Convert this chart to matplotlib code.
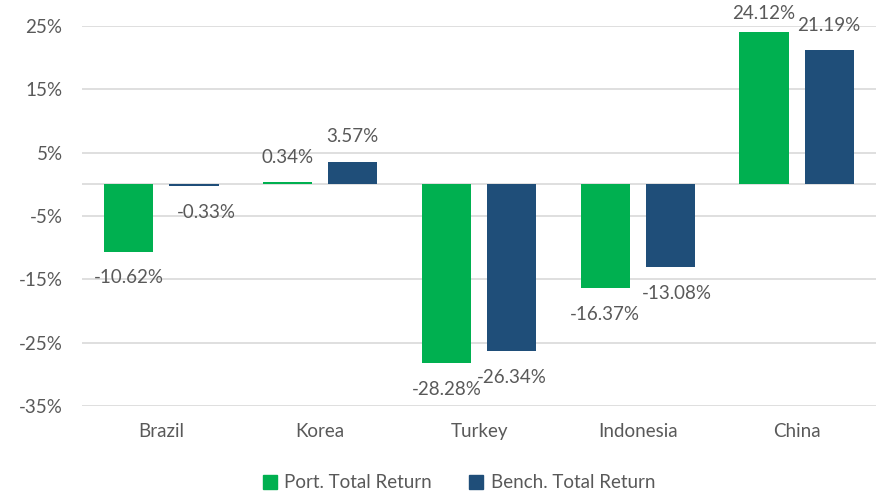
import matplotlib
matplotlib.use("Agg")
import matplotlib.pyplot as plt
import numpy as np
from matplotlib.patches import Patch

categories = ["Brazil", "Korea", "Turkey", "Indonesia", "China"]
port_values = [-10.62, 0.34, -28.28, -16.37, 24.12]
bench_values = [-0.33, 3.57, -26.34, -13.08, 21.19]
series_names = ["Port. Total Return", "Bench. Total Return"]
yticks = [25, 15, 5, -5, -15, -25, -35]

green = "#00B050"
blue = "#1F4E79"
text_c = "#595959"
grid_c = "#D9D9D9"

plt.rcParams['font.family'] = ['Lato', 'DejaVu Sans']
FS = 13.5

fig = plt.figure(figsize=(8.81, 4.96), dpi=100)
W, H = 881, 496
ax = fig.add_axes([82 / W, 1 - 406 / H, (876 - 82) / W, (406 - 26) / H])

x = np.arange(len(categories))
bw = 0.31
off = 0.205
ax.bar(x - off, port_values, bw, color=green, zorder=3)
ax.bar(x + off, bench_values, bw, color=blue, zorder=3)

ax.set_xlim(-0.5, len(categories) - 0.5)
ax.set_ylim(-35, 25)
ax.set_yticks(yticks)
ax.set_yticklabels([f"{t}%" for t in yticks])
ax.set_xticks(x)
ax.set_xticklabels(categories)
ax.tick_params(axis='both', length=0, labelsize=FS, colors=text_c)
ax.tick_params(axis='y', pad=14)
ax.tick_params(axis='x', pad=12)
ax.yaxis.grid(True, color=grid_c, linewidth=1.2, zorder=0)
for s in ax.spines.values():
    s.set_visible(False)
ax.axhline(0, color=grid_c, linewidth=1.2, zorder=1)

def label(xpos, v, dx_pts=0):
    dy = 18 if v >= 0 else -19
    return ax.annotate(f"{v:.2f}%", (xpos, v), xytext=(dx_pts, dy),
                       textcoords="offset points", ha="center", va="center",
                       fontsize=FS, color=text_c, annotation_clip=False, zorder=4)

for i, v in enumerate(port_values):
    if v > 23:
        ax.text(x[i] - off, 26.9, f"{v:.2f}%", ha="center", va="center",
                fontsize=FS, color=text_c, clip_on=False)
    else:
        label(x[i] - off, v)
for i, v in enumerate(bench_values):
    dx = 0
    if i == 0:
        dx = 9
    elif i == 3:
        dx = 5
    label(x[i] + off, v, dx)

handles = [Patch(color=green), Patch(color=blue)]
fig.legend(handles, series_names, loc="center", bbox_to_anchor=(459 / W, 1 - 483 / H),
           ncol=2, frameon=False, fontsize=FS, labelcolor=text_c,
           handlelength=0.75, handleheight=0.75, handletextpad=0.4, columnspacing=2.0)

fig.savefig("out.png", dpi=100, facecolor="white")
